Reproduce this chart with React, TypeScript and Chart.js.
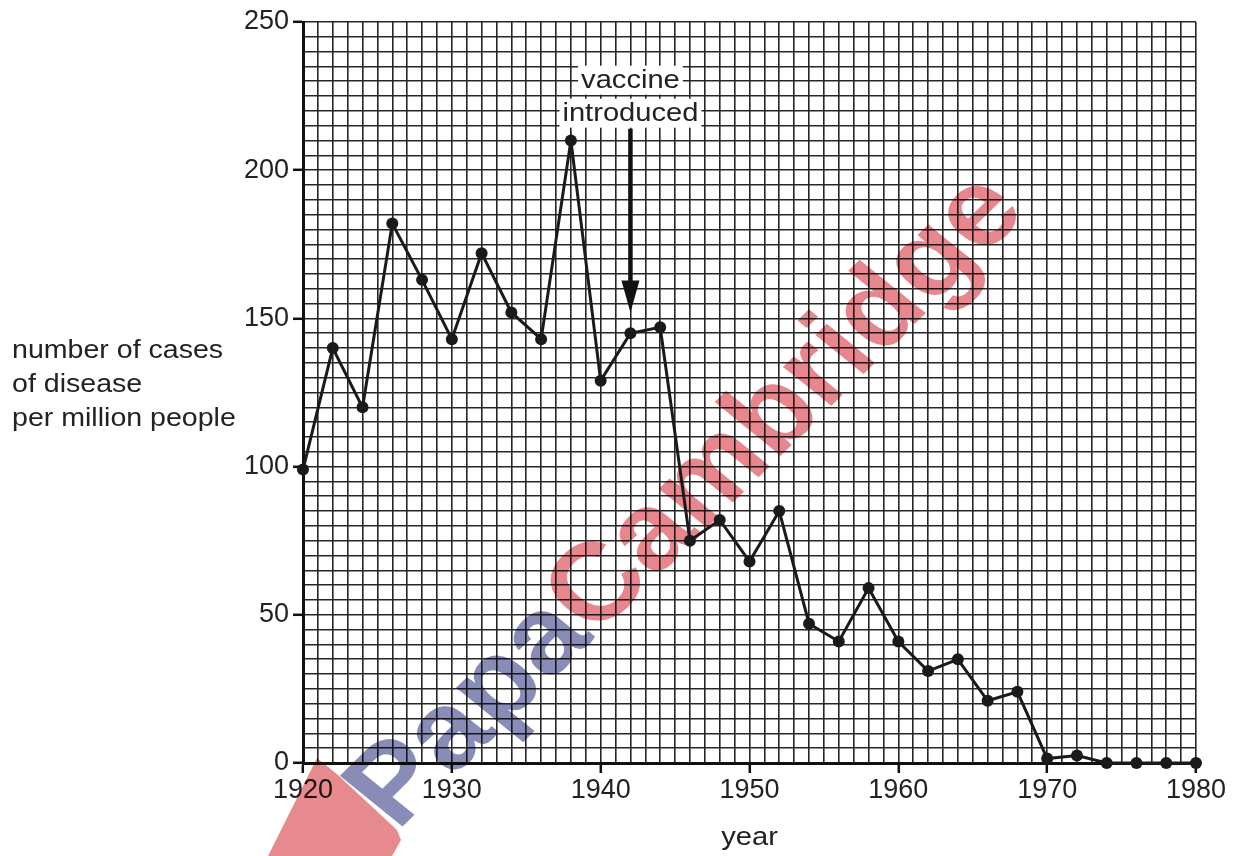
import React, { useEffect, useRef } from "react";
import { Chart, registerables } from "chart.js";

Chart.register(...registerables);

const years = [1920, 1922, 1924, 1926, 1928, 1930, 1932, 1934, 1936, 1938, 1940, 1942, 1944, 1946, 1948, 1950, 1952, 1954, 1956, 1958, 1960, 1962, 1964, 1966, 1968, 1970, 1972, 1974, 1976, 1978, 1980];
const cases = [99, 140, 120, 182, 163, 143, 172, 152, 143, 210, 129, 145, 147, 75, 82, 68, 85, 47, 41, 59, 41, 31, 35, 21, 24, 1.5, 2.5, 0, 0, 0, 0];

const xTickLabels = [1920, 1930, 1940, 1950, 1960, 1970, 1980];
const yTickLabels = [0, 50, 100, 150, 200, 250];
const yAxisTitle = ["number of cases", "of disease", "per million people"];
const xAxisTitle = "year";
const annotationLines = ["vaccine", "introduced"];
const vaccineYear = 1942;
const arrowTopValue = 214;
const arrowTipValue = 152;
const watermarkParts = ["Papa", "Cambridge"];

const FONT = "'Liberation Sans', Arial, Helvetica, sans-serif";
const TEXT = "#222";
const STRETCH = 1.12;

function drawStretched(ctx: CanvasRenderingContext2D, text: string, x: number, y: number, align: CanvasTextAlign) {
  ctx.save();
  ctx.translate(x, y);
  ctx.scale(STRETCH, 1);
  ctx.textAlign = align;
  ctx.fillText(text, 0, 0);
  ctx.restore();
}

const watermarkPlugin = {
  id: "watermark",
  beforeDatasetsDraw(chart: any) {
    const ctx = chart.ctx;
    ctx.save();
    ctx.globalCompositeOperation = "multiply";
    ctx.fillStyle = "#e68a8e";
    ctx.beginPath();
    ctx.moveTo(317, 758);
    ctx.lineTo(338, 775);
    ctx.lineTo(397, 830);
    ctx.lineTo(401, 840);
    ctx.lineTo(392, 856);
    ctx.lineTo(268, 856);
    ctx.closePath();
    ctx.fill();
    ctx.translate(397, 832);
    ctx.scale(STRETCH, 1);
    ctx.rotate((-47.7 * Math.PI) / 180);
    ctx.font = `bold 110px ${FONT}`;
    ctx.textBaseline = "alphabetic";
    ctx.textAlign = "left";
    ctx.fillStyle = "#8a8cb8";
    ctx.fillText(watermarkParts[0], 0, 0);
    const w = ctx.measureText(watermarkParts[0]).width;
    ctx.fillStyle = "#e8868d";
    ctx.fillText(watermarkParts[1], w, 0);
    ctx.restore();
  },
};

const annotationPlugin = {
  id: "annotations",
  afterDatasetsDraw(chart: any) {
    const ctx = chart.ctx;
    const xs = chart.scales.x;
    const ys = chart.scales.y;
    const x = xs.getPixelForValue(vaccineYear);
    const yTop = ys.getPixelForValue(arrowTopValue);
    const yTip = ys.getPixelForValue(arrowTipValue);
    ctx.save();
    ctx.font = `26px ${FONT}`;
    ctx.textBaseline = "alphabetic";
    const baselines = [yTop - 41, yTop - 8];
    annotationLines.forEach((t, i) => {
      const w = ctx.measureText(t).width * STRETCH;
      ctx.fillStyle = "#fff";
      ctx.fillRect(x - w / 2 - 3, baselines[i] - 22, w + 6, 29);
    });
    ctx.fillStyle = TEXT;
    annotationLines.forEach((t, i) => drawStretched(ctx, t, x, baselines[i], "center"));
    ctx.strokeStyle = "#111";
    ctx.lineWidth = 4.5;
    ctx.beginPath();
    ctx.moveTo(x, yTop);
    ctx.lineTo(x, yTip - 28);
    ctx.stroke();
    ctx.fillStyle = "#111";
    ctx.beginPath();
    ctx.moveTo(x - 9, yTip - 32);
    ctx.lineTo(x + 9, yTip - 32);
    ctx.lineTo(x, yTip);
    ctx.closePath();
    ctx.fill();
    ctx.restore();
  },
  afterDraw(chart: any) {
    const ctx = chart.ctx;
    ctx.save();
    ctx.fillStyle = TEXT;
    ctx.font = `25.5px ${FONT}`;
    ctx.textBaseline = "alphabetic";
    yAxisTitle.forEach((t, i) => drawStretched(ctx, t, 12, 358 + i * 34, "left"));
    ctx.font = `26px ${FONT}`;
    const xs = chart.scales.x;
    const cx = (xs.left + xs.right) / 2;
    drawStretched(ctx, xAxisTitle, cx, 845, "center");
    ctx.restore();
  },
};

export default function App() {
  const ref = useRef<HTMLCanvasElement | null>(null);
  useEffect(() => {
    if (!ref.current) return;
    const points = years.map((y, i) => ({ x: y, y: cases[i] }));
    const chart = new Chart(ref.current, {
      type: "line",
      data: {
        datasets: [
          {
            data: points,
            borderColor: "#1a1a1a",
            backgroundColor: "#1a1a1a",
            borderWidth: 3,
            pointRadius: 6,
            pointBackgroundColor: "#1a1a1a",
            pointBorderWidth: 0,
            tension: 0,
            clip: false,
          } as any,
        ],
      },
      options: {
        animation: false,
        responsive: false,
        maintainAspectRatio: false,
        layout: { padding: { left: 0, right: 42, top: 22, bottom: 0 } },
        plugins: { legend: { display: false }, tooltip: { enabled: false } },
        scales: {
          x: {
            type: "linear",
            min: 1920,
            max: 1980,
            afterFit: (s: any) => {
              s.height = 93;
            },
            ticks: {
              stepSize: 1,
              autoSkip: false,
              maxRotation: 0,
              padding: 1,
              color: TEXT,
              font: { size: 27, family: FONT },
              callback: (v: any) => (xTickLabels.includes(Number(v)) ? String(v) : ""),
            },
            grid: {
              color: "#262626",
              lineWidth: 1.6,
              tickLength: 10,
              tickWidth: 2.5,
              tickColor: (c: any) =>
                c.tick && xTickLabels.includes(c.tick.value) ? "#111" : "rgba(0,0,0,0)",
            },
            border: { display: true, color: "#111", width: 3 },
          },
          y: {
            type: "linear",
            min: 0,
            max: 250,
            afterFit: (s: any) => {
              s.width = 303;
            },
            ticks: {
              stepSize: 5,
              autoSkip: false,
              padding: 4,
              color: TEXT,
              font: { size: 27, family: FONT },
              callback: (v: any) => (yTickLabels.includes(Number(v)) ? String(v) : ""),
            },
            grid: {
              color: "#262626",
              lineWidth: 1.6,
              tickLength: 10,
              tickWidth: 2.5,
              tickColor: (c: any) =>
                c.tick && yTickLabels.includes(c.tick.value) ? "#111" : "rgba(0,0,0,0)",
            },
            border: { display: true, color: "#111", width: 3 },
          },
        },
      },
      plugins: [watermarkPlugin, annotationPlugin],
    });
    return () => chart.destroy();
  }, []);
  return (
    <div style={{ position: "absolute", left: 0, top: 0, width: 1238, height: 856, background: "#fff" }}>
      <canvas ref={ref} width={1238} height={856} />
    </div>
  );
}
